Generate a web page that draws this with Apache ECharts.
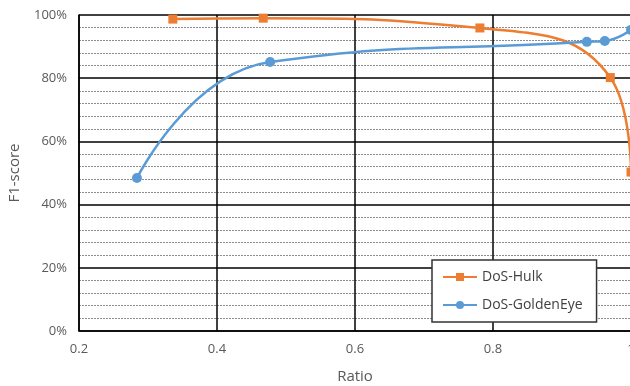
<!DOCTYPE html>
<html>
<head>
<meta charset="utf-8">
<script src="https://cdn.jsdelivr.net/npm/echarts@6/dist/echarts.min.js"></script>
<style>
  html, body { margin: 0; padding: 0; background: #fff; }
  #chart { width: 630px; height: 386px; }
</style>
</head>
<body>
<div id="chart"></div>
<script>
// values
var hulkRatio = [0.336, 0.467, 0.781, 0.97, 1.0];
var hulkF1 = [98.7, 99.0, 95.9, 80.2, 50.3];
var goldenRatio = [0.284, 0.477, 0.936, 0.962, 1.0];
var goldenF1 = [48.4, 85.1, 91.5, 91.8, 95.3];

var labelColor = "#595959";
var fontFamily = "'Open Sans', 'Noto Sans', sans-serif";

function pairs(xs, ys) {
  var out = [];
  for (var i = 0; i < xs.length; i++) {
    out.push([xs[i], ys[i]]);
  }
  return out;
}

var chart = echarts.init(document.getElementById("chart"));
var option = {
  animation: false,
  grid: {
    left: 79,
    right: -1,
    top: 15,
    bottom: 55,
    outerBoundsMode: "none",
  },
  xAxis: {
    type: "value",
    min: 0.2,
    max: 1.0,
    interval: 0.2,
    name: "Ratio",
    nameLocation: "middle",
    nameGap: 38,
    nameTextStyle: { color: labelColor, fontSize: 15, fontFamily: fontFamily },
    axisLine: { show: true, onZero: false, lineStyle: { color: "#000", width: 1.5 } },
    axisTick: { show: false },
    axisLabel: {
      color: labelColor,
      fontSize: 13,
      fontFamily: fontFamily,
      margin: 12,
      formatter: function (v) {
        return v === 1 ? "1" : v.toFixed(1);
      },
    },
    splitLine: { show: true, lineStyle: { color: "#000", width: 1.5 } },
  },
  yAxis: {
    type: "value",
    min: 0,
    max: 100,
    interval: 20,
    name: "F1-score",
    nameLocation: "middle",
    nameGap: 57,
    nameTextStyle: { color: labelColor, fontSize: 15, fontFamily: fontFamily },
    axisLine: { show: true, lineStyle: { color: "#000", width: 1.5 } },
    axisTick: { show: false },
    axisLabel: {
      color: labelColor,
      fontSize: 13,
      fontFamily: fontFamily,
      margin: 12,
      formatter: "{value}%",
    },
    splitLine: { show: true, lineStyle: { color: "#000", width: 1.5 } },
    minorTick: { show: false, splitNumber: 5 },
    minorSplitLine: {
      show: true,
      lineStyle: { color: "#8c8c8c", type: [2, 1], width: 1 },
    },
  },
  legend: {
    orient: "vertical",
    left: 432,
    top: 260,
    width: 170,
    padding: [10, 14, 10, 10],
    itemGap: 14,
    itemWidth: 34,
    itemHeight: 10,
    backgroundColor: "#fff",
    borderColor: "#333",
    borderWidth: 1.5,
    textStyle: { color: "#404040", fontSize: 14, fontFamily: fontFamily },
    data: ["DoS-Hulk", "DoS-GoldenEye"],
  },
  series: [
    {
      name: "DoS-Hulk",
      type: "line",
      smooth: 0.5,
      symbol: "rect",
      symbolSize: 9,
      itemStyle: { color: "#ED7D31" },
      lineStyle: { color: "#ED7D31", width: 2.5 },
      data: pairs(hulkRatio, hulkF1),
    },
    {
      name: "DoS-GoldenEye",
      type: "line",
      smooth: 0.5,
      symbol: "circle",
      symbolSize: 10,
      itemStyle: { color: "#5B9BD5" },
      lineStyle: { color: "#5B9BD5", width: 2.5 },
      data: pairs(goldenRatio, goldenF1),
    },
  ],
};
chart.setOption(option);
</script>
</body>
</html>
